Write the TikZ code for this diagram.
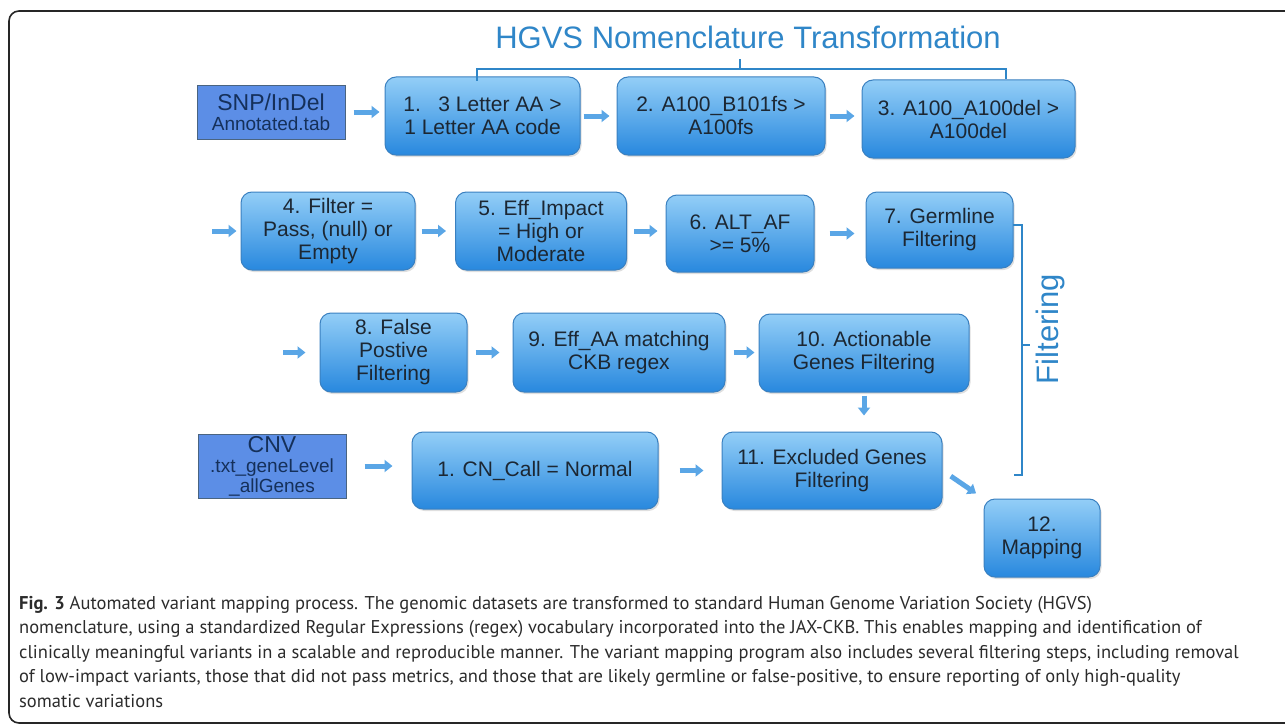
\documentclass[tikz,border=0pt]{standalone}
\usepackage{fontspec}
\setmainfont{Liberation Sans}
\newfontfamily\capfont{PT Sans}
\usetikzlibrary{arrows.meta,shadows}

\definecolor{boxtop}{HTML}{93CEF7}
\definecolor{boxbot}{HTML}{2888DE}
\definecolor{boxedge}{HTML}{3A80C0}
\definecolor{boxtext}{HTML}{1C2733}
\definecolor{infill}{HTML}{5C8EE6}
\definecolor{inedge}{HTML}{4A6480}
\definecolor{intext}{HTML}{15305A}
\definecolor{flowcol}{HTML}{5AA6E6}
\definecolor{flowedge}{HTML}{3C86C8}
\definecolor{bracecol}{HTML}{2F86C8}
\definecolor{captext}{HTML}{2B2B2B}
\definecolor{framecol}{HTML}{262626}

\begin{document}
\begin{tikzpicture}[x=1pt,y=-1pt,
  stepbox/.style={draw=boxedge, line width=1pt, rounded corners=11pt,
    top color=boxtop, bottom color=boxbot, text=boxtext, align=center,
    font=\fontsize{21}{23}\selectfont, inner sep=2pt,
    drop shadow={opacity=0.25, shadow xshift=1.5pt, shadow yshift=-2pt}},
  inbox/.style={draw=inedge, line width=1pt, fill=infill, text=intext,
    align=center, inner sep=1pt, font=\fontsize{19}{20}\selectfont},
  flow/.style={draw=flowcol, line width=5pt,
    -{Triangle[length=8pt,width=12pt]}},
  bracket/.style={draw=bracecol, line width=2pt},
  headtext/.style={text=bracecol, font=\fontsize{31}{33}\selectfont}]

  \useasboundingbox (0,0) rectangle (1285,725);
  \draw[framecol, line width=1.6pt, rounded corners=10pt] (9,11) rectangle (1300,723);

  %% inputs
  \node[inbox, minimum width=148pt, minimum height=54pt] (snp) at (271,112)
    {{\fontsize{23}{24}\selectfont SNP/InDel}\\Annotated.tab};
  \node[inbox, minimum width=148pt, minimum height=64pt] (cnv) at (272,466)
    {{\fontsize{23}{24}\selectfont CNV}\\.txt\_geneLevel\\\_allGenes};

  %% HGVS steps
  \node[stepbox, minimum width=195pt, minimum height=78pt] (b1) at (482.5,116)
    {1.\ \ \ 3 Letter AA >\\1 Letter AA code};
  \node[stepbox, minimum width=208pt, minimum height=78pt] (b2) at (721,116)
    {2. A100\_B101fs >\\A100fs};
  \node[stepbox, minimum width=213pt, minimum height=78pt] (b3) at (968.5,119)
    {3. A100\_A100del >\\A100del};

  %% filtering steps
  \node[stepbox, minimum width=174pt, minimum height=78pt] (b4) at (328,231)
    {4. Filter =\\Pass, (null) or\\Empty};
  \node[stepbox, minimum width=171pt, minimum height=78pt] (b5) at (541,231)
    {5. Eff\_Impact\\= High or\\Moderate};
  \node[stepbox, minimum width=148pt, minimum height=77pt] (b6) at (740,233.5)
    {6. ALT\_AF\\>= 5\%};
  \node[stepbox, minimum width=147pt, minimum height=76pt] (b7) at (939.5,230)
    {7. Germline\\Filtering};
  \node[stepbox, minimum width=147pt, minimum height=79pt] (b8) at (393.5,352.5)
    {8. False\\Postive\\Filtering};
  \node[stepbox, minimum width=212pt, minimum height=79pt] (b9) at (619,352.5)
    {9. Eff\_AA matching\\CKB regex};
  \node[stepbox, minimum width=210pt, minimum height=78pt] (b10) at (864,353)
    {10. Actionable\\Genes Filtering};
  \node[stepbox, minimum width=246pt, minimum height=77pt] (cn1) at (535,470.5)
    {1. CN\_Call = Normal};
  \node[stepbox, minimum width=220pt, minimum height=77pt] (b11) at (832,470.5)
    {11. Excluded Genes\\Filtering};
  \node[stepbox, minimum width=116pt, minimum height=78pt] (b12) at (1042,538)
    {12.\\Mapping};

  \coordinate (in4) at (212,231);
  \coordinate (in8) at (283,352.5);

  \draw[flow, shorten <=8pt, shorten >=5pt] (snp.east) -- (snp.east -| b1.west);
  \draw[flow, shorten <=3pt, shorten >=7pt] (b1.east) -- (b1.east -| b2.west);
  \draw[flow, shorten <=4pt, shorten >=7pt] (b2.east) -- (b2.east -| b3.west);
  \draw[flow, shorten >=4pt] (in4) -- (b4.west);
  \draw[flow, shorten <=6pt, shorten >=9pt] (b4.east) -- (b4.east -| b5.west);
  \draw[flow, shorten <=7pt, shorten >=8pt] (b5.east) -- (b5.east -| b6.west);
  \draw[flow, shorten <=15pt, shorten >=11pt] (b6.east) -- (b6.east -| b7.west);
  \draw[flow, shorten >=14pt] (in8) -- (b8.west);
  \draw[flow, shorten <=8pt, shorten >=13pt] (b8.east) -- (b8.east -| b9.west);
  \draw[flow, shorten <=8pt, shorten >=4pt] (b9.east) -- (b9.east -| b10.west);
  \draw[flow, shorten <=3pt, shorten >=16pt] (b10.south) -- (b10.south |- b11.north);
  \draw[flow, shorten <=18pt, shorten >=19pt] (cnv.east) -- (cnv.east -| cn1.west);
  \draw[flow, shorten <=21pt, shorten >=18pt] (cn1.east) -- (cn1.east -| b11.west);
  \draw[flow, shorten <=10pt, shorten >=9pt] (b11.east) -- (b12.north west);

  %% brackets
  \draw[bracket] (477,81) -- (477,69) -- (1006,69) -- (1006,79);
  \draw[bracket] (740,69) -- (740,59);
  \node[headtext] (hgvs) at (748,37) {HGVS Nomenclature Transformation};
  \draw[bracket] (1013,225) -- (1022,225) -- (1022,475) -- (1014,475);
  \draw[bracket] (1022,345) -- (1030,345);
  \node[headtext, rotate=90] (filt) at (1050,329) {Filtering};

  %% caption
  \node[anchor=north west, align=left, inner sep=0pt, text=captext,
    font=\capfont\fontsize{18.5}{24.5}\selectfont] (cap) at (19,596)
    {\textbf{Fig. 3} Automated variant mapping process. The genomic datasets are transformed to standard Human Genome Variation Society (HGVS)\\
     nomenclature, using a standardized Regular Expressions (regex) vocabulary incorporated into the JAX-CKB. This enables mapping and identification of\\
     clinically meaningful variants in a scalable and reproducible manner. The variant mapping program also includes several filtering steps, including removal\\
     of low-impact variants, those that did not pass metrics, and those that are likely germline or false-positive, to ensure reporting of only high-quality\\
     somatic variations};

\end{tikzpicture}
\end{document}
